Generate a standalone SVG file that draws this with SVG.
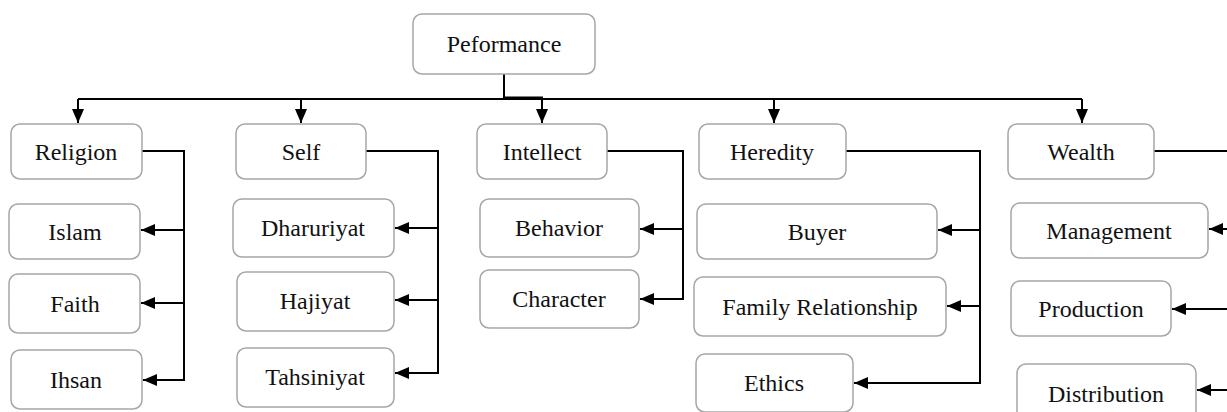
<svg xmlns="http://www.w3.org/2000/svg" width="1227" height="412" viewBox="0 0 1227 412">
<style>
.box{fill:#fff;stroke:#a6a6a6;stroke-width:1.5}
.lbl{font-family:"Liberation Serif","Times New Roman",serif;font-size:24px;fill:#111;text-anchor:middle}
.ln{fill:none;stroke:#000;stroke-width:2}
</style>
<defs>
<marker id="ah" markerUnits="userSpaceOnUse" markerWidth="14" markerHeight="12" refX="14" refY="6" orient="auto" viewBox="0 0 14 12">
<path d="M0,0 L14,6 L0,12 z" fill="#000"/>
</marker>
</defs>
<g id="connectors">
<path class="ln" d="M78,99 H1082"/>
<path class="ln" d="M504,74 V97.5 H542 V123" marker-end="url(#ah)"/>
<path class="ln" d="M78,99 V123" marker-end="url(#ah)"/>
<path class="ln" d="M301,99 V123" marker-end="url(#ah)"/>
<path class="ln" d="M774,99 V123" marker-end="url(#ah)"/>
<path class="ln" d="M1082,99 V123" marker-end="url(#ah)"/>
<path class="ln" d="M142,151 H184 V380 H143" marker-end="url(#ah)"/>
<path class="ln" d="M184,230 H141" marker-end="url(#ah)"/>
<path class="ln" d="M184,303 H141" marker-end="url(#ah)"/>
<path class="ln" d="M366,151 H438 V373 H395" marker-end="url(#ah)"/>
<path class="ln" d="M438,228 H395" marker-end="url(#ah)"/>
<path class="ln" d="M438,300 H395" marker-end="url(#ah)"/>
<path class="ln" d="M607,151 H683 V299 H640" marker-end="url(#ah)"/>
<path class="ln" d="M683,229 H640" marker-end="url(#ah)"/>
<path class="ln" d="M846,151 H980 V383 H854" marker-end="url(#ah)"/>
<path class="ln" d="M980,230 H938" marker-end="url(#ah)"/>
<path class="ln" d="M980,306 H947" marker-end="url(#ah)"/>
<path class="ln" d="M1154,151 H1227"/>
<path class="ln" d="M1227,229 H1209" marker-end="url(#ah)"/>
<path class="ln" d="M1227,309 H1172" marker-end="url(#ah)"/>
<path class="ln" d="M1227,390 H1197" marker-end="url(#ah)"/>
</g>
<g id="peformance"><rect class="box" x="413" y="14" width="182" height="60" rx="9"/><text class="lbl" x="504" y="52">Peformance</text></g>
<g id="religion"><rect class="box" x="11" y="124" width="131" height="55" rx="9"/><text class="lbl" x="76" y="160">Religion</text></g>
<g id="self"><rect class="box" x="236" y="124" width="130" height="55" rx="9"/><text class="lbl" x="301" y="160">Self</text></g>
<g id="intellect"><rect class="box" x="477" y="124" width="130" height="55" rx="9"/><text class="lbl" x="542" y="160">Intellect</text></g>
<g id="heredity"><rect class="box" x="699" y="124" width="147" height="55" rx="9"/><text class="lbl" x="772" y="160">Heredity</text></g>
<g id="wealth"><rect class="box" x="1008" y="124" width="146" height="55" rx="9"/><text class="lbl" x="1081" y="160">Wealth</text></g>
<g id="islam"><rect class="box" x="9" y="204" width="131" height="55" rx="9"/><text class="lbl" x="75" y="240">Islam</text></g>
<g id="faith"><rect class="box" x="9" y="274" width="131" height="59" rx="9"/><text class="lbl" x="75" y="312">Faith</text></g>
<g id="ihsan"><rect class="box" x="11" y="350" width="131" height="59" rx="9"/><text class="lbl" x="76" y="388">Ihsan</text></g>
<g id="dharuriyat"><rect class="box" x="233" y="199" width="161" height="58" rx="9"/><text class="lbl" x="313" y="236">Dharuriyat</text></g>
<g id="hajiyat"><rect class="box" x="237" y="272" width="157" height="59" rx="9"/><text class="lbl" x="315" y="309">Hajiyat</text></g>
<g id="tahsiniyat"><rect class="box" x="237" y="348" width="157" height="59" rx="9"/><text class="lbl" x="315" y="385">Tahsiniyat</text></g>
<g id="behavior"><rect class="box" x="480" y="199" width="159" height="58" rx="9"/><text class="lbl" x="559" y="236">Behavior</text></g>
<g id="character"><rect class="box" x="480" y="270" width="159" height="58" rx="9"/><text class="lbl" x="559" y="307">Character</text></g>
<g id="buyer"><rect class="box" x="697" y="204" width="240" height="55" rx="9"/><text class="lbl" x="817" y="240">Buyer</text></g>
<g id="family-relationship"><rect class="box" x="694" y="277" width="252" height="59" rx="9"/><text class="lbl" x="820" y="315">Family Relationship</text></g>
<g id="ethics"><rect class="box" x="696" y="354" width="157" height="58" rx="9"/><text class="lbl" x="774" y="391">Ethics</text></g>
<g id="management"><rect class="box" x="1011" y="203" width="197" height="55" rx="9"/><text class="lbl" x="1109" y="239">Management</text></g>
<g id="production"><rect class="box" x="1011" y="281" width="160" height="55" rx="9"/><text class="lbl" x="1091" y="317">Production</text></g>
<g id="distribution"><rect class="box" x="1017" y="364" width="179" height="60" rx="9"/><text class="lbl" x="1106" y="402">Distribution</text></g>
</svg>
